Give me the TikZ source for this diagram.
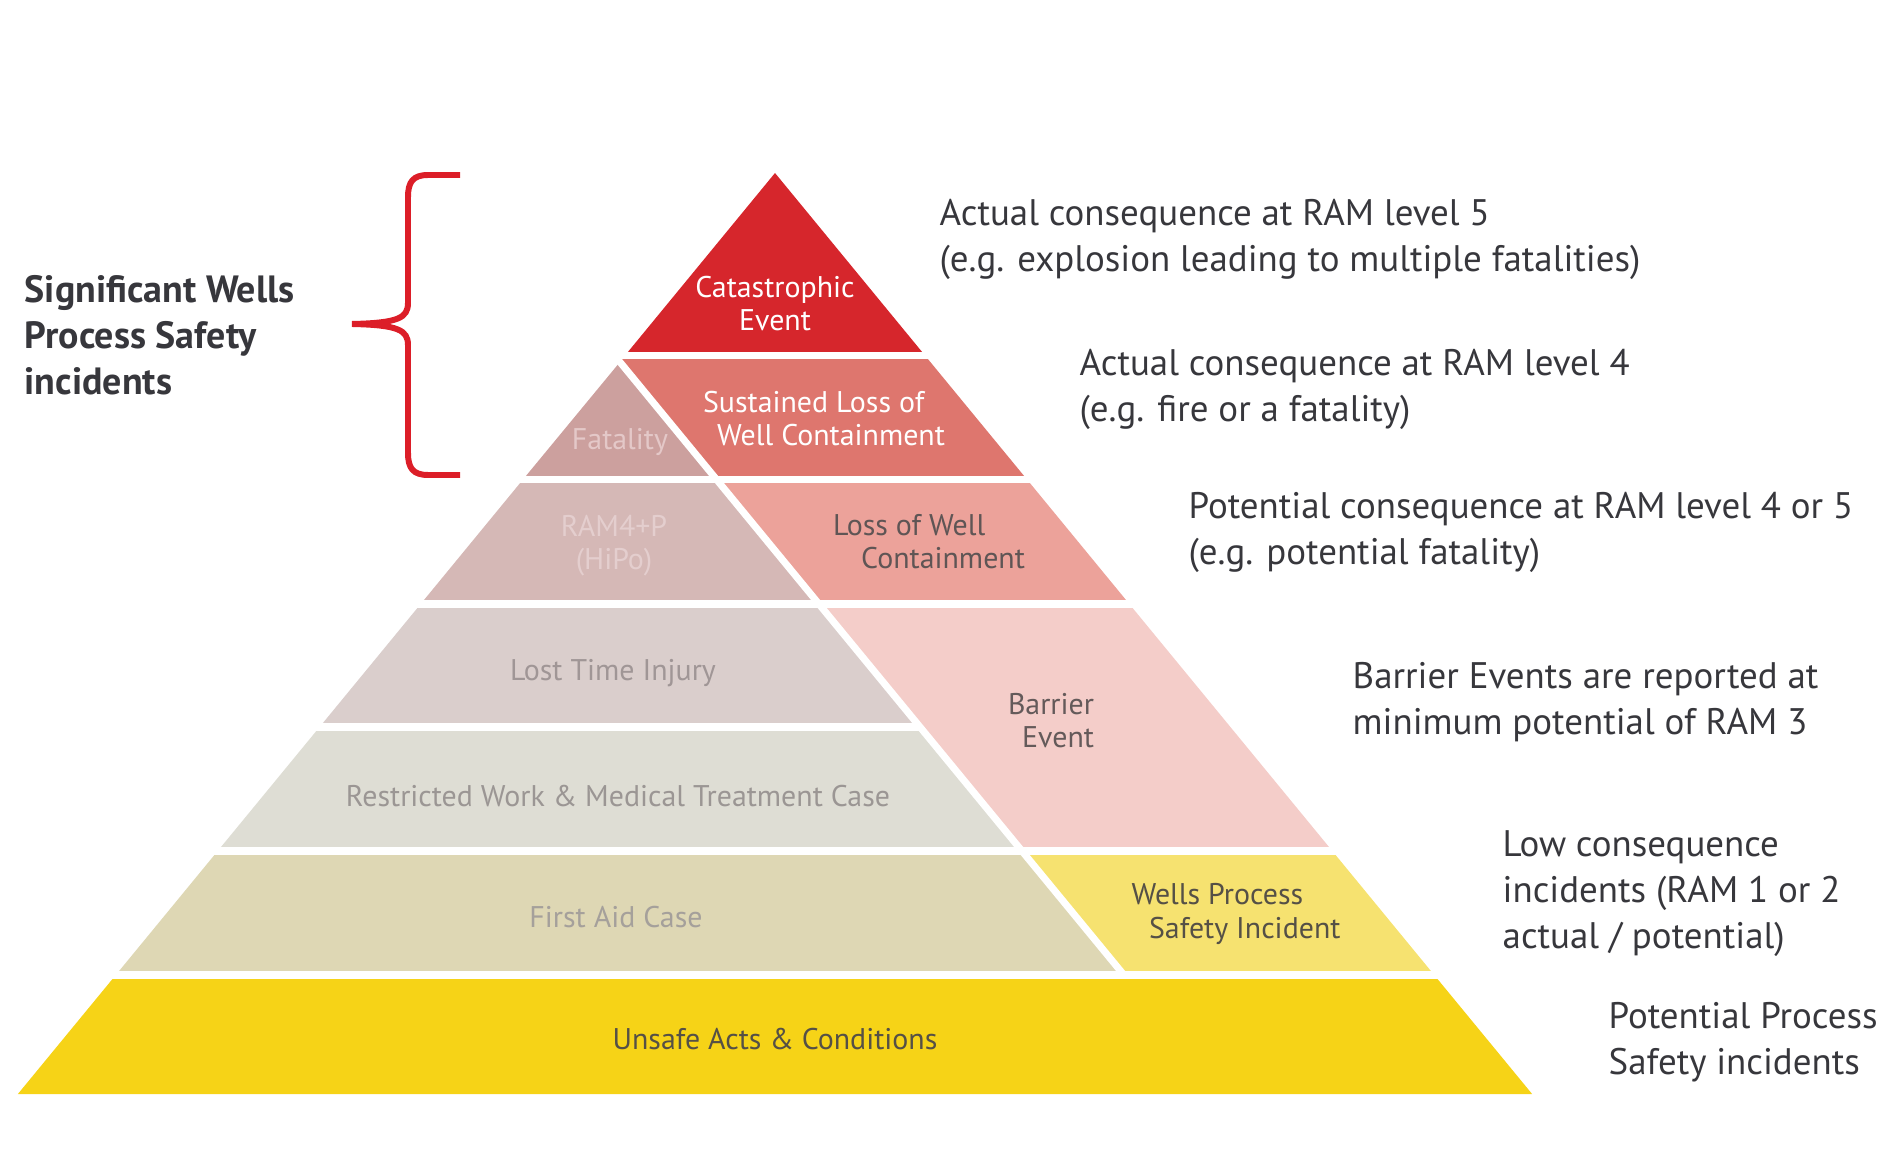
\documentclass[tikz,border=0pt]{standalone}
\usepackage{fontspec}
\setmainfont{PT Sans}
\usepackage{tikz}

\definecolor{catred}{RGB}{214,38,44}
\definecolor{sustred}{RGB}{222,118,110}
\definecolor{lossred}{RGB}{236,162,154}
\definecolor{barpink}{RGB}{244,205,201}
\definecolor{wpsiyel}{RGB}{246,226,112}
\definecolor{unsafeyel}{RGB}{246,211,23}
\definecolor{fatalgrey}{RGB}{204,160,158}
\definecolor{ramgrey}{RGB}{213,184,182}
\definecolor{ltigrey}{RGB}{218,206,204}
\definecolor{rwcgrey}{RGB}{222,221,212}
\definecolor{facgrey}{RGB}{222,215,180}
\definecolor{darktext}{RGB}{55,55,60}
\definecolor{bracered}{RGB}{220,30,40}

\begin{document}
\begin{tikzpicture}[x=0.01cm, y=-0.01cm,
  gap/.style={white, line width=0.07cm},
  inlabel/.style={font=\fontsize{8.5}{9.4}\selectfont, inner sep=0pt},
  sidelabel/.style={font=\fontsize{10.5}{13.1}\selectfont, text=darktext, anchor=west, align=left, inner sep=0pt}]
  \useasboundingbox (0,0) rectangle (1899,1161);
  % red side of the pyramid
  \fill[catred] (775,173) -- (624.6,356) -- (925.4,356) -- cycle;
  \fill[sustred] (624.6,356) -- (925.4,356) -- (1027.4,480) -- (717,480) -- (620,362) -- cycle;
  \fill[lossred] (717,480) -- (1027.4,480) -- (1129.3,604) -- (818.9,604) -- cycle;
  \fill[barpink] (818.9,604) -- (1129.3,604) -- (1332.3,851) -- (1022,851) -- cycle;
  \fill[wpsiyel] (1022,851) -- (1332.3,851) -- (1434.2,975) -- (1123.9,975) -- cycle;
  % grey side of the pyramid
  \fill[fatalgrey] (620,362) -- (717,480) -- (522.6,480) -- cycle;
  \fill[ramgrey] (522.6,480) -- (717,480) -- (818.9,604) -- (420.7,604) -- cycle;
  \fill[ltigrey] (420.7,604) -- (818.9,604) -- (920,727) -- (319.6,727) -- cycle;
  \fill[rwcgrey] (319.6,727) -- (920,727) -- (1022,851) -- (217.7,851) -- cycle;
  \fill[facgrey] (217.7,851) -- (1022,851) -- (1123.9,975) -- (115.8,975) -- cycle;
  % base
  \fill[unsafeyel] (115.8,975) -- (1434.2,975) -- (1532.1,1094) -- (17.9,1094) -- cycle;
  % white gaps
  \draw[gap] (600,356) -- (950,356);
  \draw[gap] (500,480) -- (1050,480);
  \draw[gap] (400,604) -- (1150,604);
  \draw[gap] (300,727) -- (920,727);
  \draw[gap] (200,851) -- (1350,851);
  \draw[gap] (100,975) -- (1450,975);
  \draw[gap] (615,356) -- (1123.9,975);

  \node[inlabel, text=white, align=center] (cat) at (775,304) {Catastrophic\\Event};
  \node[inlabel, text=white, align=left] (sust) at (824,419) {Sustained Loss of\\\hspace*{4pt}Well Containment};
  \node[inlabel, text={rgb,255:red,228;green,200;blue,200}] (fatal) at (620,442) {Fatality};
  \node[inlabel, text={rgb,255:red,228;green,206;blue,206}, align=center] (ram) at (614,546) {RAM4+P\\(HiPo)};
  \node[inlabel, text={rgb,255:red,95;green,85;blue,85}, align=left] (loss) at (929,542) {Loss of Well\\\hspace*{8pt}Containment};
  \node[inlabel, text={rgb,255:red,160;green,150;blue,150}] (lti) at (613,673) {Lost Time Injury};
  \node[inlabel, text={rgb,255:red,100;green,90;blue,90}, align=right] (barrier) at (1051,721) {Barrier\\Event};
  \node[inlabel, text={rgb,255:red,155;green,150;blue,148}] (rwc) at (618,796) {Restricted Work \& Medical Treatment Case};
  \node[inlabel, text={rgb,255:red,165;green,160;blue,155}] (fac) at (616,917) {First Aid Case};
  \node[inlabel, text={rgb,255:red,85;green,80;blue,70}, align=left] (wpsi) at (1236,914) {Wells Process\\\hspace*{5pt}Safety Incident};
  \node[inlabel, text={rgb,255:red,85;green,80;blue,70}] (unsafe) at (775,1039) {Unsafe Acts \& Conditions};

  % explanations on the right
  \node[sidelabel] (lblfive) at (939,239) {Actual consequence at RAM level 5\\(e.g. explosion leading to multiple fatalities)};
  \node[sidelabel] (lblfour) at (1079,389) {Actual consequence at RAM level 4\\(e.g. fire or a fatality)};
  \node[sidelabel] (lblpot) at (1188,532) {Potential consequence at RAM level 4 or 5\\(e.g. potential fatality)};
  \node[sidelabel] (lblbarrier) at (1352,702) {Barrier Events are reported at\\minimum potential of RAM 3};
  \node[sidelabel] (lbllow) at (1502,894) {Low consequence\\incidents (RAM 1 or 2\\actual / potential)};
  \node[sidelabel] (lblppsi) at (1608,1042) {Potential Process\\Safety incidents};

  % brace and its label
  \node[sidelabel, font=\fontsize{10.8}{13}\selectfont\bfseries] (lblsig) at (24,335) {Significant Wells\\Process Safety\\incidents};
  \draw[bracered, line width=1.7pt] (460,175) -- (428,175) .. controls (413,175) and (408,182) .. (408,197)
    -- (408,303) .. controls (408,318) and (398,323) .. (352,324)
    .. controls (398,325) and (408,330) .. (408,345)
    -- (408,453) .. controls (408,468) and (413,475) .. (428,475) -- (460,475);
\end{tikzpicture}
\end{document}
